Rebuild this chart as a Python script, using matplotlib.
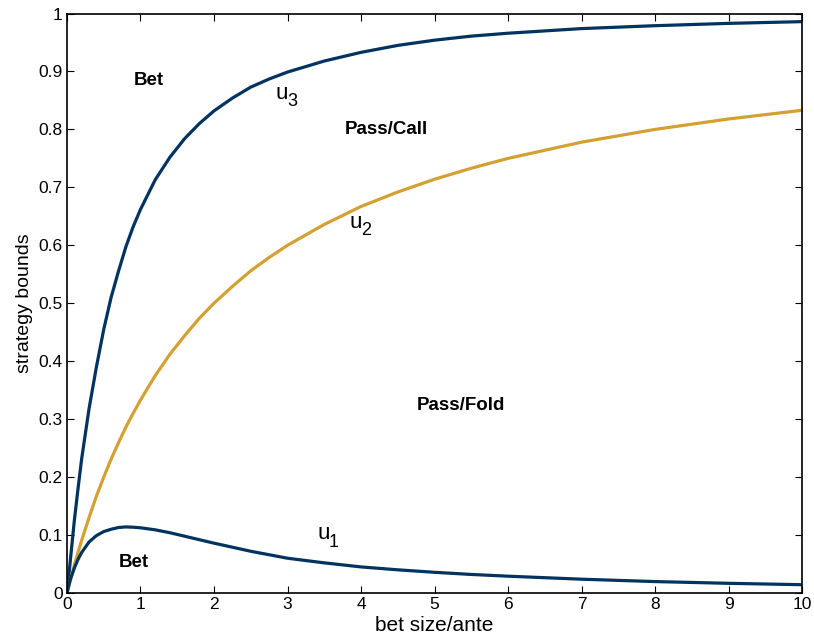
import numpy as np
import matplotlib
matplotlib.use('Agg')
import matplotlib.pyplot as plt

plt.rcParams['font.family'] = ['Liberation Sans', 'DejaVu Sans']

# values
bet = [0, 0.025, 0.05, 0.1, 0.15, 0.2, 0.3, 0.4, 0.5, 0.6, 0.7, 0.8, 0.9, 1.0, 1.2, 1.4, 1.6, 1.8,
       2.0, 2.25, 2.5, 2.75, 3, 3.5, 4, 4.5, 5, 5.5, 6, 7, 8, 9, 10]
u1 = [0, 0.013, 0.025, 0.043, 0.058, 0.070, 0.088, 0.099, 0.106, 0.110, 0.113, 0.114, 0.1135, 0.1125,
      0.109, 0.104, 0.098, 0.092, 0.086, 0.079, 0.072, 0.066, 0.060, 0.052, 0.045, 0.040, 0.0357,
      0.032, 0.029, 0.0238, 0.0197, 0.0167, 0.0143]
u2 = [0, 0.012, 0.024, 0.048, 0.070, 0.091, 0.130, 0.167, 0.200, 0.231, 0.259, 0.286, 0.310, 0.333,
      0.375, 0.412, 0.444, 0.474, 0.500, 0.529, 0.556, 0.579, 0.600, 0.636, 0.667, 0.692, 0.714,
      0.733, 0.750, 0.778, 0.800, 0.818, 0.833]
u3 = [0, 0.03, 0.062, 0.125, 0.18, 0.232, 0.318, 0.39, 0.455, 0.51, 0.555, 0.597, 0.632, 0.662,
      0.713, 0.752, 0.784, 0.810, 0.832, 0.854, 0.873, 0.887, 0.899, 0.918, 0.933, 0.945, 0.954,
      0.961, 0.966, 0.974, 0.979, 0.983, 0.986]

blue = '#00335f'
gold = '#d4a032'

fig = plt.figure(figsize=(8.14, 6.41), dpi=100)
ax = fig.add_axes([0.0823, 0.0749, 0.903, 0.904])

ax.plot(bet, u3, color=blue, lw=2.3, solid_joinstyle='round')
ax.plot(bet, u2, color=gold, lw=2.3, solid_joinstyle='round')
ax.plot(bet, u1, color=blue, lw=2.3, solid_joinstyle='round')

# region labels
bold = dict(fontsize=13.5, fontweight='bold', ha='center', va='center')
ax.text(1.11, 0.885, 'Bet', **bold)
ax.text(4.34, 0.799, 'Pass/Call', **bold)
ax.text(5.36, 0.324, 'Pass/Fold', **bold)
ax.text(0.905, 0.052, 'Bet', **bold)

# curve labels, matlab style subscripts
def curve_label(x, y, sub):
    ax.text(x, y, 'u', fontsize=16, ha='left', va='center')
    ax.annotate(sub, (x, y), xytext=(8, -6), textcoords='offset points',
                fontsize=13, ha='left', va='center')

curve_label(2.84, 0.862, '3')
curve_label(3.85, 0.640, '2')
curve_label(3.41, 0.102, '1')

ax.set_xlim(0, 10)
ax.set_ylim(0, 1)
ax.set_xticks(np.arange(0, 11, 1))
ax.set_yticks(np.arange(0, 1.01, 0.1))
ax.set_yticklabels(['0', '0.1', '0.2', '0.3', '0.4', '0.5', '0.6', '0.7', '0.8', '0.9', '1'])
ax.tick_params(direction='in', top=True, right=True, length=5, width=0.8, labelsize=12.5, pad=3)
for s in ax.spines.values():
    s.set_linewidth(1.2)

ax.set_xlabel('bet size/ante', fontsize=15, labelpad=3)
ax.set_ylabel('strategy bounds', fontsize=14, labelpad=4)

plt.savefig('out.png', dpi=100)
